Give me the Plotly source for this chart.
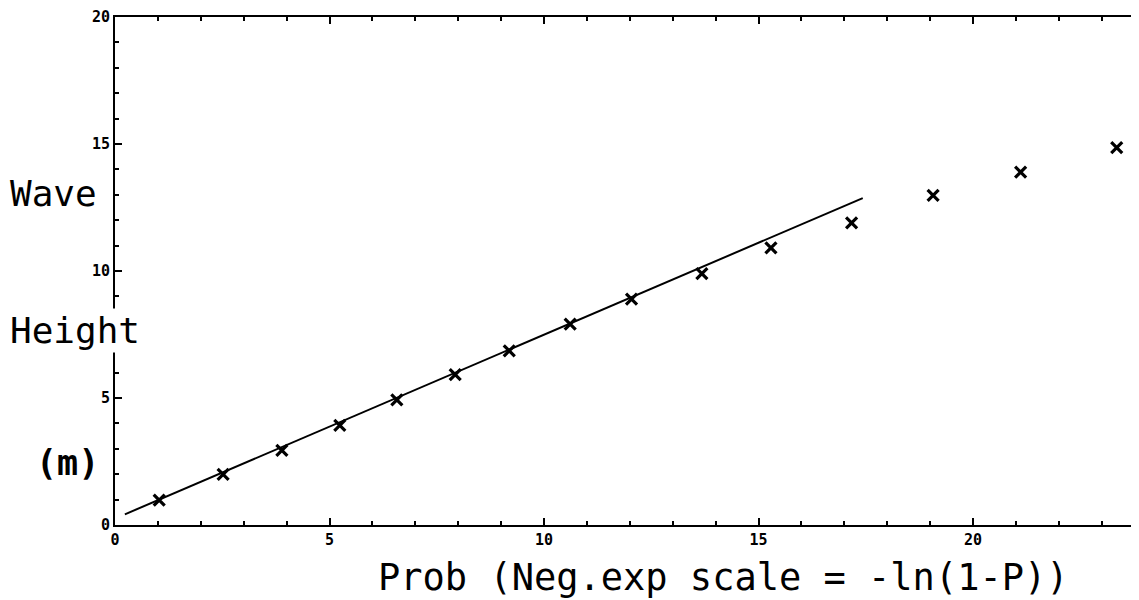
import plotly.graph_objects as go

# Observed points: probability scale (-ln(1-P)) vs wave height (m)
prob_x = [1.03, 2.52, 3.89, 5.24, 6.57, 7.93, 9.19, 10.61, 12.04, 13.68,
          15.29, 17.17, 19.07, 21.11, 23.35]
height_y = [0.98, 1.99, 2.94, 3.92, 4.93, 5.92, 6.86, 7.91, 8.89, 9.90,
            10.91, 11.89, 12.98, 13.89, 14.86]

# Fitted straight line end points
fit_x = [0.23, 17.43]
fit_y = [0.42, 12.87]

tick_vals = [0, 5, 10, 15, 20]
tick_text = ["0", "5", "10", "15", "20"]

MONO = "DejaVu Sans Mono"

fig = go.Figure()
fig.add_trace(go.Scatter(x=fit_x, y=fit_y, mode="lines",
                         line=dict(color="black", width=2),
                         showlegend=False, hoverinfo="skip"))
fig.add_trace(go.Scatter(x=prob_x, y=height_y, mode="markers",
                         marker=dict(symbol="x-thin", size=11,
                                     line=dict(color="black", width=3.2),
                                     color="black"),
                         showlegend=False))

OFF = 8  # page body margin
W, H = 1139 - OFF, 600 - OFF
L, T = 115 - OFF, 15 - OFF
pw, ph = 1024, 510
R = W - L - pw
B = H - T - ph


def px_x(px):
    return (px - 115) / pw


def px_y(py):
    return (525 - py) / ph


axis_common = dict(
    showgrid=False, zeroline=False, showline=True, linecolor="black",
    linewidth=2, ticks="inside", ticklen=7, tickwidth=2, tickcolor="black",
    tickfont=dict(family=MONO, size=15, color="black", weight="bold"),
    tickvals=tick_vals, ticktext=tick_text, ticklabeloverflow="allow",
    minor=dict(dtick=1, ticks="inside", ticklen=4, tickwidth=1.5,
               tickcolor="black", showgrid=False),
)

fig.update_layout(
    width=W, height=H,
    margin=dict(l=L, r=R, t=T, b=B, pad=0),
    paper_bgcolor="white", plot_bgcolor="white",
    xaxis=dict(range=[0, pw / 42.9], mirror="ticks", **axis_common),
    yaxis=dict(range=[0, 20], **axis_common),
    annotations=[
        dict(text="Wave", xref="paper", yref="paper", x=px_x(8), y=px_y(192),
             xanchor="left", yanchor="middle", showarrow=False,
             font=dict(family=MONO, size=36, color="black")),
        dict(text="Height", xref="paper", yref="paper", x=px_x(8), y=px_y(330),
             xanchor="left", yanchor="middle", showarrow=False,
             bgcolor="white",
             font=dict(family=MONO, size=36, color="black")),
        dict(text="(m)", xref="paper", yref="paper", x=px_x(34), y=px_y(463),
             xanchor="left", yanchor="middle", showarrow=False,
             bgcolor="white",
             font=dict(family=MONO, size=35, color="black", weight="bold")),
        dict(text="Prob (Neg.exp scale = -ln(1-P))", xref="paper", yref="paper",
             x=px_x(723), y=px_y(578), xanchor="center", yanchor="middle",
             showarrow=False,
             font=dict(family=MONO, size=37, color="black")),
    ],
)

fig.write_html("out.html")
